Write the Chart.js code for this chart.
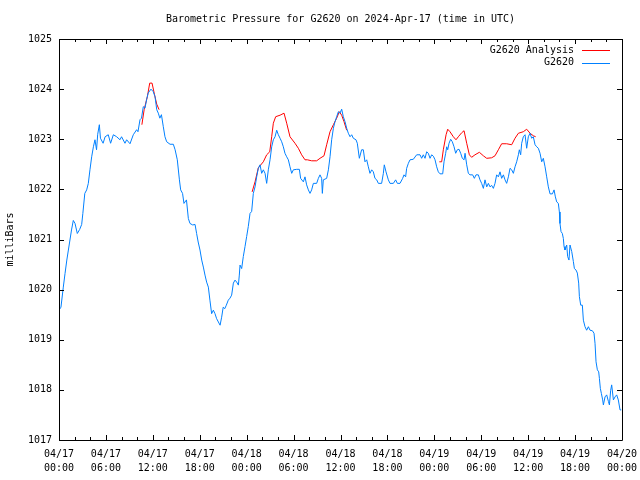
<!DOCTYPE html>
<html>
<head>
<meta charset="utf-8">
<script src="https://cdn.jsdelivr.net/npm/chart.js@4/dist/chart.umd.min.js"></script>
<style>
  body { margin: 0; background: #fff; }
  #wrap { width: 640px; height: 480px; }
</style>
</head>
<body>
<div id="wrap"><canvas id="myCanvas" width="640" height="480"></canvas></div>
<script>
'use strict';

// hours since 04/17 00:00 UTC and pressure
let stationHours = [0.0,0.25,0.55,0.77,1.0,1.2,1.4,1.6,1.83,2.05,2.34,2.64,2.9,3.05,3.3,3.54,3.75,3.96,4.18,4.4,4.6,4.8,4.95,5.16,5.3,5.64,5.9,6.3,6.6,6.95,7.37,7.8,8.0,8.44,8.65,9.08,9.5,9.93,10.1,10.36,10.55,10.78,11.0,11.2,11.4,11.76,12.05,12.28,12.5,12.7,12.9,13.1,13.34,13.55,13.77,14.2,14.62,14.85,15.13,15.4,15.56,15.8,15.98,16.3,16.54,16.75,17.1,17.4,17.6,17.8,18.03,18.25,18.46,18.67,18.88,19.1,19.3,19.52,19.74,19.95,20.16,20.6,20.8,21.0,21.2,21.4,21.65,21.87,22.08,22.3,22.51,22.72,22.94,23.06,23.15,23.36,23.57,23.79,24.0,24.21,24.43,24.64,24.85,25.07,25.28,25.49,25.71,25.92,26.13,26.35,26.56,26.77,26.99,27.2,27.41,27.63,27.84,28.05,28.27,28.48,28.69,28.9,29.12,29.33,29.54,29.76,29.97,30.4,30.74,30.9,31.25,31.46,31.67,31.89,32.1,32.31,32.53,32.95,33.17,33.38,33.59,33.68,33.8,34.23,34.45,34.66,34.87,35.09,35.3,35.51,35.73,35.94,36.15,36.36,36.58,36.79,37.0,37.22,37.43,37.64,37.98,38.15,38.41,38.7,38.92,39.13,39.35,39.56,39.77,39.99,40.2,40.41,40.63,40.84,41.26,41.48,41.6,41.82,42.12,42.33,42.76,43.05,43.27,43.61,43.95,44.12,44.33,44.46,44.68,44.89,45.31,45.74,46.17,46.38,46.59,46.81,47.02,47.23,47.45,47.66,47.88,48.09,48.3,48.51,48.73,49.07,49.24,49.45,49.58,49.71,49.88,50.09,50.3,50.52,50.73,50.94,51.16,51.37,51.58,51.8,51.93,52.14,52.35,52.56,52.9,53.12,53.33,53.63,53.84,54.05,54.27,54.48,54.7,54.91,55.12,55.33,55.55,55.76,55.97,56.19,56.4,56.61,56.83,57.04,57.25,57.47,57.68,57.89,58.11,58.32,58.53,58.75,58.87,59.04,59.17,59.38,59.6,59.81,60.02,60.24,60.45,60.66,60.88,61.09,61.3,61.52,61.73,61.94,62.16,62.37,62.58,62.8,63.1,63.31,63.48,63.65,63.86,63.99,64.07,64.2,64.37,64.5,64.59,64.71,64.93,65.05,65.22,65.35,65.57,65.78,65.91,66.12,66.29,66.46,66.55,66.72,66.93,67.06,67.27,67.48,67.7,67.91,68.21,68.42,68.55,68.68,68.85,69.02,69.11,69.23,69.36,69.53,69.62,69.83,70.04,70.26,70.39,70.55,70.68,70.9,71.11,71.32,71.53,71.75,71.9];
let stationPressure = [1019.59,1019.65,1020.05,1020.32,1020.59,1020.79,1020.99,1021.19,1021.38,1021.32,1021.12,1021.2,1021.3,1021.52,1021.92,1021.99,1022.12,1022.39,1022.65,1022.85,1022.99,1022.79,1023.1,1023.29,1023.02,1022.92,1023.05,1023.09,1022.92,1023.09,1023.05,1022.99,1023.05,1022.92,1022.99,1022.91,1023.09,1023.19,1023.15,1023.39,1023.42,1023.65,1023.62,1023.79,1023.92,1024.0,1023.95,1023.85,1023.59,1023.52,1023.42,1023.49,1023.25,1023.05,1022.95,1022.9,1022.9,1022.79,1022.59,1022.19,1021.99,1021.92,1021.72,1021.79,1021.42,1021.32,1021.29,1021.3,1021.12,1020.95,1020.79,1020.59,1020.45,1020.29,1020.15,1020.05,1019.79,1019.52,1019.59,1019.52,1019.42,1019.29,1019.45,1019.65,1019.62,1019.69,1019.79,1019.83,1019.89,1020.13,1020.19,1020.15,1020.09,1020.29,1020.49,1020.42,1020.66,1020.86,1021.06,1021.26,1021.52,1021.56,1021.92,1022.05,1022.25,1022.42,1022.49,1022.32,1022.39,1022.32,1022.12,1022.39,1022.59,1022.85,1022.99,1023.05,1023.18,1023.09,1023.02,1022.95,1022.85,1022.72,1022.65,1022.59,1022.45,1022.32,1022.39,1022.4,1022.4,1022.22,1022.15,1022.25,1022.09,1021.99,1021.92,1021.99,1022.12,1022.12,1022.22,1022.29,1022.22,1021.92,1022.19,1022.22,1022.39,1022.65,1022.99,1023.22,1023.35,1023.45,1023.55,1023.52,1023.6,1023.45,1023.35,1023.22,1023.12,1023.05,1023.09,1023.02,1022.99,1022.92,1022.62,1022.79,1022.79,1022.55,1022.59,1022.45,1022.32,1022.39,1022.35,1022.22,1022.19,1022.12,1022.12,1022.32,1022.49,1022.35,1022.19,1022.12,1022.12,1022.19,1022.12,1022.12,1022.22,1022.29,1022.25,1022.42,1022.52,1022.59,1022.6,1022.69,1022.69,1022.62,1022.69,1022.62,1022.75,1022.72,1022.62,1022.69,1022.66,1022.59,1022.45,1022.35,1022.31,1022.31,1022.55,1022.72,1022.85,1022.79,1022.92,1023.0,1022.95,1022.85,1022.72,1022.79,1022.8,1022.72,1022.62,1022.59,1022.72,1022.49,1022.32,1022.29,1022.29,1022.22,1022.29,1022.29,1022.19,1022.12,1022.02,1022.19,1022.05,1022.12,1022.05,1022.08,1022.02,1022.12,1022.29,1022.25,1022.35,1022.22,1022.29,1022.19,1022.12,1022.25,1022.42,1022.39,1022.32,1022.45,1022.55,1022.69,1022.79,1022.69,1022.92,1023.05,1023.09,1022.82,1023.05,1023.12,1023.02,1023.05,1022.89,1022.85,1022.82,1022.72,1022.55,1022.62,1022.45,1022.25,1022.05,1021.91,1021.91,1021.99,1021.85,1021.75,1021.72,1021.55,1021.32,1021.16,1021.12,1021.02,1020.86,1020.79,1020.89,1020.66,1020.59,1020.89,1020.76,1020.56,1020.42,1020.39,1020.33,1020.13,1019.86,1019.69,1019.69,1019.39,1019.26,1019.19,1019.26,1019.19,1019.18,1019.13,1018.93,1018.56,1018.4,1018.36,1018.23,1018.03,1017.93,1017.8,1017.7,1017.86,1017.9,1017.77,1017.7,1017.99,1018.1,1017.8,1017.86,1017.9,1017.8,1017.6,1017.6];

// analysis only exists in three pieces, nulls break the line
let analysisHours = [10.6,10.9,11.3,11.6,11.9,12.2,12.5,12.8,18,24.7,25.07,25.49,26.13,26.56,26.95,27.2,27.41,27.71,28.27,28.78,29.12,29.54,30.18,30.61,31.03,31.46,31.76,32.31,32.95,33.38,33.89,34.23,34.66,35.09,35.51,35.85,36.15,36.45,36.79,42,48.64,48.94,49.15,49.5,49.71,50.0,50.43,50.77,51.07,51.5,51.8,52.14,52.48,52.77,53.2,53.76,54.27,54.7,55.33,55.76,56.19,56.61,57.25,57.89,58.32,58.75,59.38,59.81,60.24,60.66,60.96];
let analysisPressure = [1023.29,1023.6,1023.85,1024.12,1024.12,1023.9,1023.7,1023.59,null,1021.95,1022.15,1022.43,1022.55,1022.69,1022.75,1023.05,1023.32,1023.45,1023.48,1023.52,1023.32,1023.05,1022.92,1022.82,1022.69,1022.59,1022.59,1022.57,1022.57,1022.62,1022.67,1022.89,1023.15,1023.29,1023.42,1023.55,1023.48,1023.35,1023.18,null,1022.55,1022.55,1022.79,1023.09,1023.2,1023.15,1023.05,1022.99,1023.05,1023.13,1023.17,1022.92,1022.69,1022.64,1022.69,1022.74,1022.67,1022.62,1022.63,1022.67,1022.79,1022.91,1022.91,1022.89,1023.02,1023.12,1023.15,1023.2,1023.12,1023.07,1023.05];

// x tick labels every 6 hours
let tickDates = ['04/17','04/17','04/17','04/17','04/18','04/18','04/18','04/18','04/19','04/19','04/19','04/19','04/20'];
let tickTimes = ['00:00','06:00','12:00','18:00','00:00','06:00','12:00','18:00','00:00','06:00','12:00','18:00','00:00'];

let titleText = 'Barometric Pressure for G2620 on 2024-Apr-17 (time in UTC)';
let seriesNames = ['G2620 Analysis', 'G2620'];
let seriesColors = ['#ff0000', '#0080ff'];

const monoFont = '"DejaVu Sans Mono", "Liberation Mono", monospace';

function toPoints(hours, values) {
  let points = [];
  for (let i = 0; i < hours.length; i++) {
    points.push({x: hours[i], y: values[i]});
  }
  return points;
}

// gnuplot style box: frame, inward ticks, title and legend
const gnuplotFrame = {
  id: 'gnuplotFrame',
  afterDraw(chart) {
    const ctx = chart.ctx;
    const area = chart.chartArea;
    const xs = chart.scales.x;
    const ys = chart.scales.y;
    ctx.save();
    ctx.strokeStyle = '#000';
    ctx.lineWidth = 1;
    ctx.beginPath();
    ctx.rect(Math.round(area.left) + 0.5, Math.round(area.top) + 0.5,
      Math.round(area.right - area.left), Math.round(area.bottom - area.top));
    for (let h = 0; h <= 72; h += 2) {
      let x = Math.round(xs.getPixelForValue(h)) + 0.5;
      let len = (h % 6 === 0) ? 5 : 3;
      ctx.moveTo(x, area.bottom);
      ctx.lineTo(x, area.bottom - len);
      ctx.moveTo(x, area.top);
      ctx.lineTo(x, area.top + len);
    }
    for (let v = 1017; v <= 1025; v++) {
      let y = Math.round(ys.getPixelForValue(v)) + 0.5;
      ctx.moveTo(area.left, y);
      ctx.lineTo(area.left + 5, y);
      ctx.moveTo(area.right, y);
      ctx.lineTo(area.right - 5, y);
    }
    ctx.stroke();

    ctx.fillStyle = '#000';
    ctx.font = '10px ' + monoFont;
    ctx.textAlign = 'center';
    ctx.textBaseline = 'middle';
    ctx.fillText(titleText, (area.left + area.right) / 2, 19);

    ctx.textAlign = 'right';
    for (let i = 0; i < seriesNames.length; i++) {
      let y = 50 + i * 12.5;
      ctx.fillStyle = '#000';
      ctx.fillText(seriesNames[i], 574, y);
      ctx.strokeStyle = seriesColors[i];
      ctx.beginPath();
      ctx.moveTo(582, Math.round(y) + 0.5);
      ctx.lineTo(610, Math.round(y) + 0.5);
      ctx.stroke();
    }
    ctx.restore();
  }
};

function renderChart() {
  const data = {
    datasets: [{
      label: seriesNames[1],
      data: toPoints(stationHours, stationPressure),
      borderColor: seriesColors[1],
      borderWidth: 1,
      pointRadius: 0,
      tension: 0,
      order: 1
    },
    {
      label: seriesNames[0],
      data: toPoints(analysisHours, analysisPressure),
      borderColor: seriesColors[0],
      borderWidth: 1,
      pointRadius: 0,
      tension: 0,
      spanGaps: false,
      order: 2
    }]
  };
  const config = {
    type: 'line',
    data: data,
    plugins: [gnuplotFrame],
    options: {
      responsive: false,
      animation: false,
      layout: {
        padding: {top: 39, right: 18, left: 0, bottom: 0}
      },
      plugins: {
        legend: {display: false},
        title: {display: false},
        tooltip: {enabled: false}
      },
      scales: {
        x: {
          type: 'linear',
          min: 0,
          max: 72,
          grid: {display: false, drawTicks: false},
          border: {display: false},
          afterBuildTicks: (scale) => {
            scale.ticks = tickDates.map((d, i) => ({value: i * 6}));
          },
          afterFit: (scale) => {
            scale.height = 40;
            scale.paddingLeft = 0;
            scale.paddingRight = 0;
          },
          ticks: {
            autoSkip: false,
            maxRotation: 0,
            padding: 7,
            color: '#000',
            font: {family: monoFont, size: 10, lineHeight: 1.4},
            callback: (value) => {
              let i = Math.round(value / 6);
              return [tickDates[i], tickTimes[i]];
            }
          }
        },
        y: {
          min: 1017,
          max: 1025,
          grid: {display: false, drawTicks: false},
          border: {display: false},
          afterFit: (scale) => {
            scale.width = 59;
            scale.paddingTop = 0;
            scale.paddingBottom = 0;
          },
          title: {
            display: true,
            text: 'milliBars',
            color: '#000',
            font: {family: monoFont, size: 10},
            padding: {top: 4, bottom: 0}
          },
          ticks: {
            stepSize: 1,
            padding: 7,
            color: '#000',
            font: {family: monoFont, size: 10},
            callback: (value) => String(value)
          }
        }
      }
    }
  };
  const myChart = new Chart(document.getElementById('myCanvas'), config);
}

renderChart();
</script>
</body>
</html>
